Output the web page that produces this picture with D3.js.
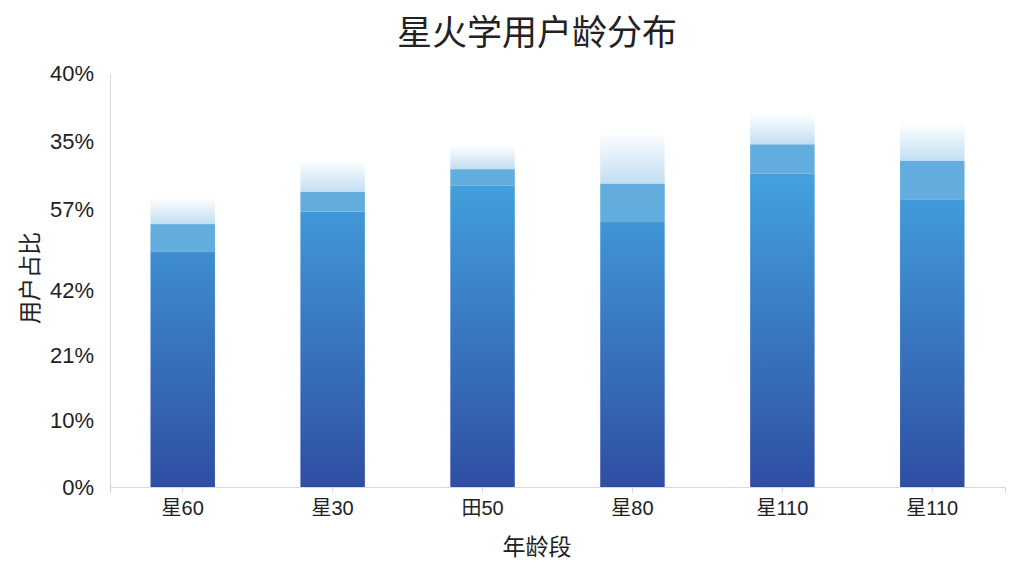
<!DOCTYPE html>
<html>
<head>
<meta charset="utf-8">
<script src="https://cdn.jsdelivr.net/npm/d3@7"></script>
<style>
  body { margin: 0; background: #fff; }
  text { font-family: "Liberation Sans", "Noto Sans CJK SC", sans-serif; fill: #222; }
</style>
</head>
<body>
<div class="vis-barchart"></div>
<script>
// data
var categories = ["星60", "星30", "田50", "星80", "星110", "星110"];
var barValues = [25.4, 28.5, 30.7, 29.3, 33.1, 31.5];   // top of solid bar
var bandValues = [22.7, 26.6, 29.1, 25.6, 30.3, 27.8];  // start of lighter band
var glowValues = [28.0, 31.6, 33.0, 34.3, 36.1, 35.2];  // top of faded glow
var tickPositions = [0, 6.4, 12.7, 19.0, 26.8, 33.4, 40];
var tickLabels = ["0%", "10%", "21%", "42%", "57%", "35%", "40%"];

var chartWidth = 1024, chartHeight = 576;
var margin = { top: 73, right: 19, bottom: 89, left: 110 };
var width = chartWidth - margin.left - margin.right;
var height = chartHeight - margin.top - margin.bottom;

var root = d3.select(".vis-barchart").append("svg")
    .attr("width", chartWidth)
    .attr("height", chartHeight);

var defs = root.append("defs");
var bodyGrad = defs.append("linearGradient").attr("id", "body-grad")
    .attr("gradientUnits", "userSpaceOnUse")
    .attr("x1", 0).attr("x2", 0).attr("y1", 100).attr("y2", height);
bodyGrad.append("stop").attr("offset", "0%").attr("stop-color", "#43a2de");
bodyGrad.append("stop").attr("offset", "100%").attr("stop-color", "#2f4ea3");

var glowGrad = defs.append("linearGradient").attr("id", "glow-grad")
    .attr("x1", 0).attr("x2", 0).attr("y1", 0).attr("y2", 1);
glowGrad.append("stop").attr("offset", "0%").attr("stop-color", "#ffffff");
glowGrad.append("stop").attr("offset", "100%").attr("stop-color", "#c2def2");

var svg = root.append("g")
    .attr("transform", "translate(" + margin.left + "," + margin.top + ")");

var x = d3.scaleBand().domain(d3.range(categories.length)).range([0, width])
    .paddingInner(0.57).paddingOuter(0.27);
var y = d3.scaleLinear().domain([0, 40]).range([height, 0]);

var rows = categories.map(function(c, i) {
  return { i: i, name: c, value: barValues[i], band: bandValues[i], glow: glowValues[i] };
});

// faded glow above each bar
svg.selectAll(".glow").data(rows).enter().append("rect")
    .attr("x", function(d) { return x(d.i); })
    .attr("width", x.bandwidth())
    .attr("y", function(d) { return y(d.glow); })
    .attr("height", function(d) { return y(d.value) - y(d.glow); })
    .attr("fill", "url(#glow-grad)");

// main bar body
svg.selectAll(".bar").data(rows).enter().append("rect")
    .attr("x", function(d) { return x(d.i); })
    .attr("width", x.bandwidth())
    .attr("y", function(d) { return y(d.band); })
    .attr("height", function(d) { return height - y(d.band); })
    .attr("fill", "url(#body-grad)");

// lighter band on top
svg.selectAll(".band").data(rows).enter().append("rect")
    .attr("x", function(d) { return x(d.i); })
    .attr("width", x.bandwidth())
    .attr("y", function(d) { return y(d.value); })
    .attr("height", function(d) { return y(d.band) - y(d.value); })
    .attr("fill", "#62addd");

// axes
var yAxis = svg.append("g")
    .call(d3.axisLeft(y).tickValues(tickPositions).tickSize(0).tickPadding(16)
      .tickFormat(function(d, i) { return tickLabels[i]; }));
yAxis.select(".domain").attr("stroke", "#d8d8d8");
yAxis.selectAll("text").style("font-size", "22px").attr("fill", "#222");

var xAxis = svg.append("g")
    .attr("transform", "translate(0," + height + ")")
    .call(d3.axisBottom(x).tickSize(6).tickPadding(8)
      .tickFormat(function(i) { return categories[i]; }));
xAxis.select(".domain").attr("stroke", "#d8d8d8");
xAxis.selectAll("line").attr("stroke", "#d8d8d8");
xAxis.selectAll("text").style("font-size", "20px").attr("fill", "#222");

// titles
root.append("text")
    .attr("x", 537).attr("y", 45)
    .attr("text-anchor", "middle")
    .style("font-size", "35px")
    .text("星火学用户龄分布");

root.append("text")
    .attr("x", 537).attr("y", 555)
    .attr("text-anchor", "middle")
    .style("font-size", "23px")
    .text("年龄段");

root.append("text")
    .attr("transform", "translate(38,278) rotate(-90)")
    .attr("text-anchor", "middle")
    .style("font-size", "23px")
    .text("用户占比");
</script>
</body>
</html>
